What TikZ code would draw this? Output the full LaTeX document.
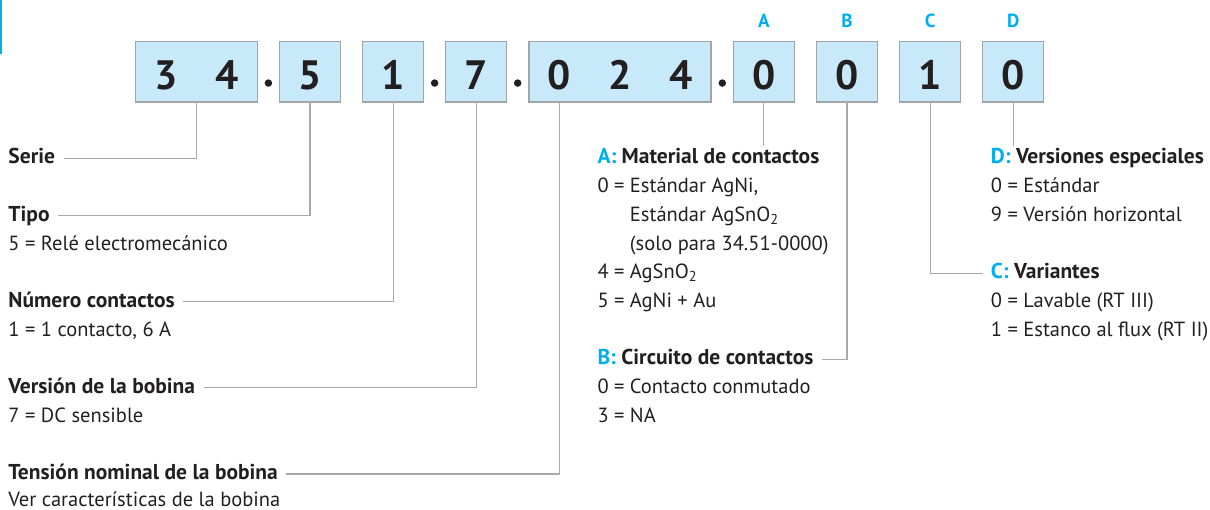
\documentclass[tikz,border=0pt]{standalone}
\usepackage{fontspec}
\setmainfont{PT Sans}
\usetikzlibrary{positioning,calc}
\definecolor{cellfill}{HTML}{C8E9F9}
\definecolor{cellline}{HTML}{A2A4A7}
\definecolor{leadgray}{HTML}{A7A9AC}
\definecolor{keycyan}{HTML}{00AEEF}
\definecolor{ink}{HTML}{231F20}
\newcommand{\codeletter}[1]{\textcolor{keycyan}{#1:} }

\begin{document}
\begin{tikzpicture}[x=1pt,y=-1pt,
  node distance=22.35pt,
  cell/.style={fill=cellfill,minimum width=60.75pt,minimum height=60.3pt,
    inner sep=0pt,outer sep=0pt,text height=34.6pt,text depth=0pt,
    font=\fontsize{41}{41}\selectfont\bfseries,text=ink},
  frame/.style={draw=cellline,line width=1.4pt},
  dot/.style={circle,fill=ink,minimum size=7.5pt,inner sep=0pt},
  tag/.style={font=\fontsize{19}{19}\selectfont\bfseries,text=keycyan,
    inner sep=0pt,text height=13.3pt,text depth=0pt},
  head/.style={anchor=base west,font=\fontsize{21.5}{23}\selectfont\bfseries,
    text=ink,inner sep=0pt,text height=14.4pt,text depth=3pt},
  item/.style={anchor=base west,font=\fontsize{20.5}{22}\selectfont,
    text=ink,inner sep=0pt,text depth=0pt},
  lead/.style={draw=leadgray,line width=1.1pt}
]
\useasboundingbox (0,0) rectangle (1210,510);
\fill[keycyan] (0,0) rectangle (1.5,54);

% code cells
\node[cell] (c1) at (166.1,71.85) {3};
\node[cell,right=0pt of c1] (c2) {4};
\node[cell,right=of c2] (c3) {5};
\node[cell,right=of c3] (c4) {1};
\node[cell,right=of c4] (c5) {7};
\node[cell,right=of c5] (c6) {0};
\node[cell,right=0pt of c6] (c7) {2};
\node[cell,right=0pt of c7] (c8) {4};
\node[cell,right=of c8] (c9) {0};
\node[cell,right=of c9] (c10) {0};
\node[cell,right=of c10] (c11) {1};
\node[cell,right=of c11] (c12) {0};

\draw[frame] (c1.north west) rectangle (c2.south east);
\draw[frame] (c3.north west) rectangle (c3.south east);
\draw[frame] (c4.north west) rectangle (c4.south east);
\draw[frame] (c5.north west) rectangle (c5.south east);
\draw[frame] (c6.north west) rectangle (c8.south east);
\draw[frame] (c9.north west) rectangle (c9.south east);
\draw[frame] (c10.north west) rectangle (c10.south east);
\draw[frame] (c11.north west) rectangle (c11.south east);
\draw[frame] (c12.north west) rectangle (c12.south east);

\node[dot] (d1) at ($(c2.east)!.5!(c3.west)+(0,11.2)$) {};
\node[dot] (d2) at ($(c4.east)!.5!(c5.west)+(0,11.2)$) {};
\node[dot] (d3) at ($(c5.east)!.5!(c6.west)+(0,11.2)$) {};
\node[dot] (d4) at ($(c8.east)!.5!(c9.west)+(0,11.2)$) {};

\node[tag,above=14.4pt of c9] (tA) {A};
\node[tag,above=14.4pt of c10] (tB) {B};
\node[tag,above=14.4pt of c11] (tC) {C};
\node[tag,above=14.4pt of c12] (tD) {D};

% left column
\node[head] (hSerie) at (8.3,164) {Serie};
\node[head] (hTipo) at (8.3,221.4) {Tipo};
\node[item] (iTipo) at (8.3,250.1) {5 = Relé electromecánico};
\node[head] (hNum) at (8.3,307.5) {Número contactos};
\node[item] (iNum) at (8.3,336.2) {1 = 1 contacto, 6 A};
\node[head] (hVer) at (8.3,393.6) {Versión de la bobina};
\node[item] (iVer) at (8.3,422.3) {7 = DC sensible};
\node[head] (hTen) at (8.3,479.7) {Tensión nominal de la bobina};
\node[item] (iTen) at (8.3,506.5) {Ver características de la bobina};

% A and B
\node[head] (hA) at (597.3,164) {\codeletter{A}Material de contactos};
\node[item] (iA0) at (597.3,192.7) {0 = Estándar AgNi,};
\node[item] (iA0b) at (597.3,221.4) {\phantom{0 = }Estándar AgSnO\textsubscript{2}};
\node[item] (iA0c) at (597.3,250.1) {\phantom{0 = }(solo para 34.51-0000)};
\node[item] (iA4) at (597.3,278.8) {4 = AgSnO\textsubscript{2}};
\node[item] (iA5) at (597.3,307.5) {5 = AgNi + Au};
\node[head] (hB) at (597.3,364.9) {\codeletter{B}Circuito de contactos};
\node[item] (iB0) at (597.3,393.6) {0 = Contacto conmutado};
\node[item] (iB3) at (597.3,422.3) {3 = NA};

% D and C
\node[head] (hD) at (990.7,164) {\codeletter{D}Versiones especiales};
\node[item] (iD0) at (990.7,192.7) {0 = Estándar};
\node[item] (iD9) at (990.7,221.4) {9 = Versión horizontal};
\node[head] (hC) at (990.7,278.8) {\codeletter{C}Variantes};
\node[item] (iC0) at (990.7,307.5) {0 = Lavable (RT III)};
\node[item] (iC1) at (990.7,336.2) {1 = Estanco al flux (RT II)};

% leaders
\draw[lead] (c1.south east) |- ([xshift=8.5pt]hSerie.east);
\draw[lead] (c3.south) |- ([xshift=8.5pt]hTipo.east);
\draw[lead] (c4.south) |- ([xshift=8.5pt]hNum.east);
\draw[lead] (c5.south) |- ([xshift=8.5pt]hVer.east);
\draw[lead] (c6.south) |- ([xshift=8.5pt]hTen.east);
\draw[lead,shorten >=3pt] (c9.south) -- (c9.south |- hA.north);
\draw[lead] (c10.south) |- ([xshift=8.5pt]hB.east);
\draw[lead] (c11.south) |- ([xshift=-8pt]hC.west);
\draw[lead,shorten >=3pt] (c12.south) -- (c12.south |- hD.north);
\end{tikzpicture}
\end{document}
